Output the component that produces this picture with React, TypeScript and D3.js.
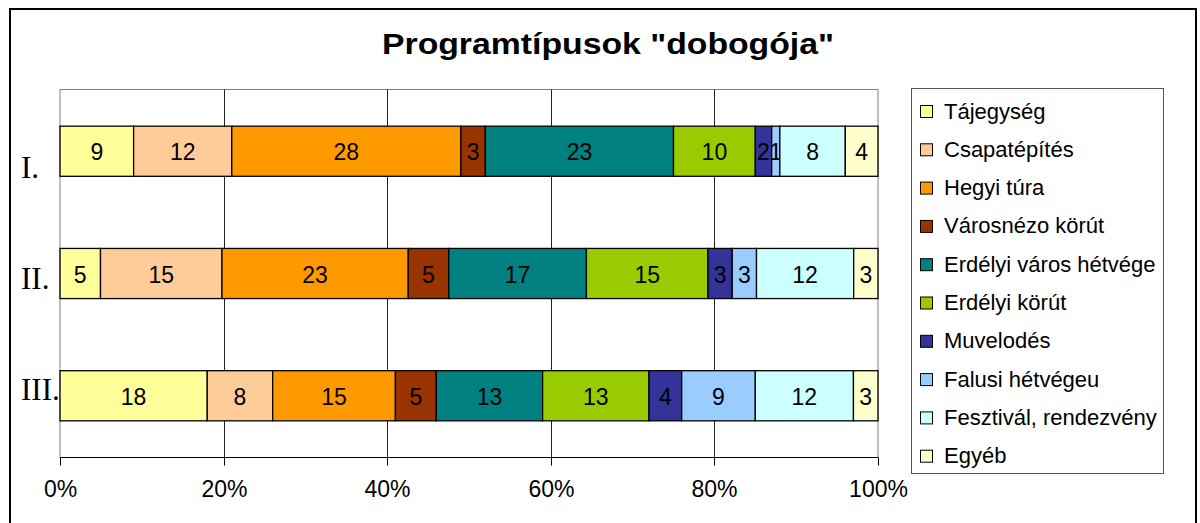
import React, { useEffect, useRef } from "react";
import * as d3 from "d3";

const categories = ["I.", "II.", "III."];
const seriesNames = [
  "Tájegység",
  "Csapatépítés",
  "Hegyi túra",
  "Városnézo körút",
  "Erdélyi város hétvége",
  "Erdélyi körút",
  "Muvelodés",
  "Falusi hétvégeu",
  "Fesztivál, rendezvény",
  "Egyéb",
];
const seriesColors = [
  "#FFFF99",
  "#FFCC99",
  "#FF9900",
  "#993300",
  "#008080",
  "#99CC00",
  "#333399",
  "#99CCFF",
  "#CCFFFF",
  "#FFFFCC",
];
const rowI = [9, 12, 28, 3, 23, 10, 2, 1, 8, 4];
const rowII = [5, 15, 23, 5, 17, 15, 3, 3, 12, 3];
const rowIII = [18, 8, 15, 5, 13, 13, 4, 9, 12, 3];
const rows = [rowI, rowII, rowIII];
const tickValues = [0, 0.2, 0.4, 0.6, 0.8, 1];

const SANS = "'Liberation Sans', Arial, sans-serif";

const App = () => {
  const ref = useRef<SVGSVGElement>(null);

  useEffect(() => {
    const width = 1200;
    const height = 523;
    const svg = d3.select(ref.current);
    svg.selectAll("*").remove();

    svg
      .append("rect")
      .attr("x", 10)
      .attr("y", 9)
      .attr("width", 1186)
      .attr("height", 530)
      .attr("fill", "#fff")
      .attr("stroke", "#000")
      .attr("stroke-width", 2);

    svg
      .append("text")
      .attr("x", 608)
      .attr("y", 54)
      .attr("text-anchor", "middle")
      .attr("font-family", SANS)
      .attr("font-weight", "bold")
      .attr("font-size", 29)
      .attr("textLength", 452)
      .attr("lengthAdjust", "spacingAndGlyphs")
      .text('Programtípusok "dobogója"');

    const left = 60;
    const right = 878;
    const top = 89.5;
    const bottom = 457.5;

    const x = d3.scaleLinear().domain([0, 1]).range([left, right]);
    const y = d3
      .scaleBand()
      .domain(categories)
      .range([top, bottom])
      .paddingInner(0.59)
      .paddingOuter(0.3);
    // category labels sit a bit off the bar centres in the original
    const yLabel = d3.scalePoint().domain(categories).range([178, 400]);

    const plot = svg.append("g");

    plot
      .append("rect")
      .attr("x", left)
      .attr("y", top)
      .attr("width", right - left)
      .attr("height", bottom - top)
      .attr("fill", "#fff")
      .attr("stroke", "#808080")
      .attr("stroke-width", 1);

    plot
      .selectAll(".grid")
      .data(tickValues.slice(1, -1))
      .enter()
      .append("line")
      .attr("x1", (d) => Math.round(x(d)) + 0.5)
      .attr("x2", (d) => Math.round(x(d)) + 0.5)
      .attr("y1", top)
      .attr("y2", bottom)
      .attr("stroke", "#222")
      .attr("stroke-width", 1);

    const stack = d3
      .stack<number[]>()
      .keys(seriesNames.map((_, i) => String(i)))
      .value((d, key) => d[+key])
      .offset(d3.stackOffsetExpand);

    const layers = stack(rows);

    layers.forEach((layer, si) => {
      const g = plot.append("g");
      layer.forEach((seg, ci) => {
        const cat = categories[ci];
        const x0 = x(seg[0]);
        const x1 = x(seg[1]);
        g.append("rect")
          .attr("x", x0)
          .attr("y", y(cat)!)
          .attr("width", x1 - x0)
          .attr("height", y.bandwidth())
          .attr("fill", seriesColors[si])
          .attr("stroke", "#000")
          .attr("stroke-width", 1.3);
        g.append("text")
          .attr("x", (x0 + x1) / 2)
          .attr("y", y(cat)! + y.bandwidth() / 2 + 9)
          .attr("text-anchor", "middle")
          .attr("font-family", SANS)
          .attr("font-size", 23)
          .attr("fill", "#000")
          .text(rows[ci][si]);
      });
    });

    // x axis
    plot
      .append("line")
      .attr("x1", left)
      .attr("x2", right)
      .attr("y1", bottom)
      .attr("y2", bottom)
      .attr("stroke", "#000");

    const ticks = plot
      .selectAll(".tick")
      .data(tickValues)
      .enter()
      .append("g")
      .attr("transform", (d) => `translate(${Math.round(x(d)) + 0.5},0)`);
    ticks
      .append("line")
      .attr("y1", bottom)
      .attr("y2", bottom + 8)
      .attr("stroke", "#000");
    ticks
      .append("text")
      .attr("y", 497)
      .attr("text-anchor", "middle")
      .attr("font-family", SANS)
      .attr("font-size", 23)
      .text((d) => d3.format(".0%")(d));

    // category labels
    svg
      .selectAll(".cat")
      .data(categories)
      .enter()
      .append("text")
      .attr("x", 21)
      .attr("y", (d) => yLabel(d)!)
      .attr("font-family", "'Liberation Serif', 'Times New Roman', serif")
      .attr("font-size", 31)
      .text((d) => d);

    // legend
    const legend = svg.append("g");
    legend
      .append("rect")
      .attr("x", 911.5)
      .attr("y", 88.5)
      .attr("width", 252)
      .attr("height", 385)
      .attr("fill", "#fff")
      .attr("stroke", "#555")
      .attr("stroke-width", 1);

    const ly = d3.scalePoint().domain(seriesNames).range([111, 455.7]);
    const items = legend
      .selectAll(".item")
      .data(seriesNames)
      .enter()
      .append("g")
      .attr("transform", (d) => `translate(0,${ly(d)})`);
    items
      .append("rect")
      .attr("x", 920.5)
      .attr("y", -5.5)
      .attr("width", 12)
      .attr("height", 12)
      .attr("fill", (_, i) => seriesColors[i])
      .attr("stroke", "#000")
      .attr("stroke-width", 1);
    items
      .append("text")
      .attr("x", 944)
      .attr("y", 7.5)
      .attr("font-family", SANS)
      .attr("font-size", 22)
      .text((d) => d);

    svg.attr("width", width).attr("height", height);
  }, []);

  return (
    <div style={{ position: "absolute", left: 0, top: 0 }}>
      <svg ref={ref} width={1200} height={523} style={{ display: "block" }}></svg>
    </div>
  );
};

export default App;
